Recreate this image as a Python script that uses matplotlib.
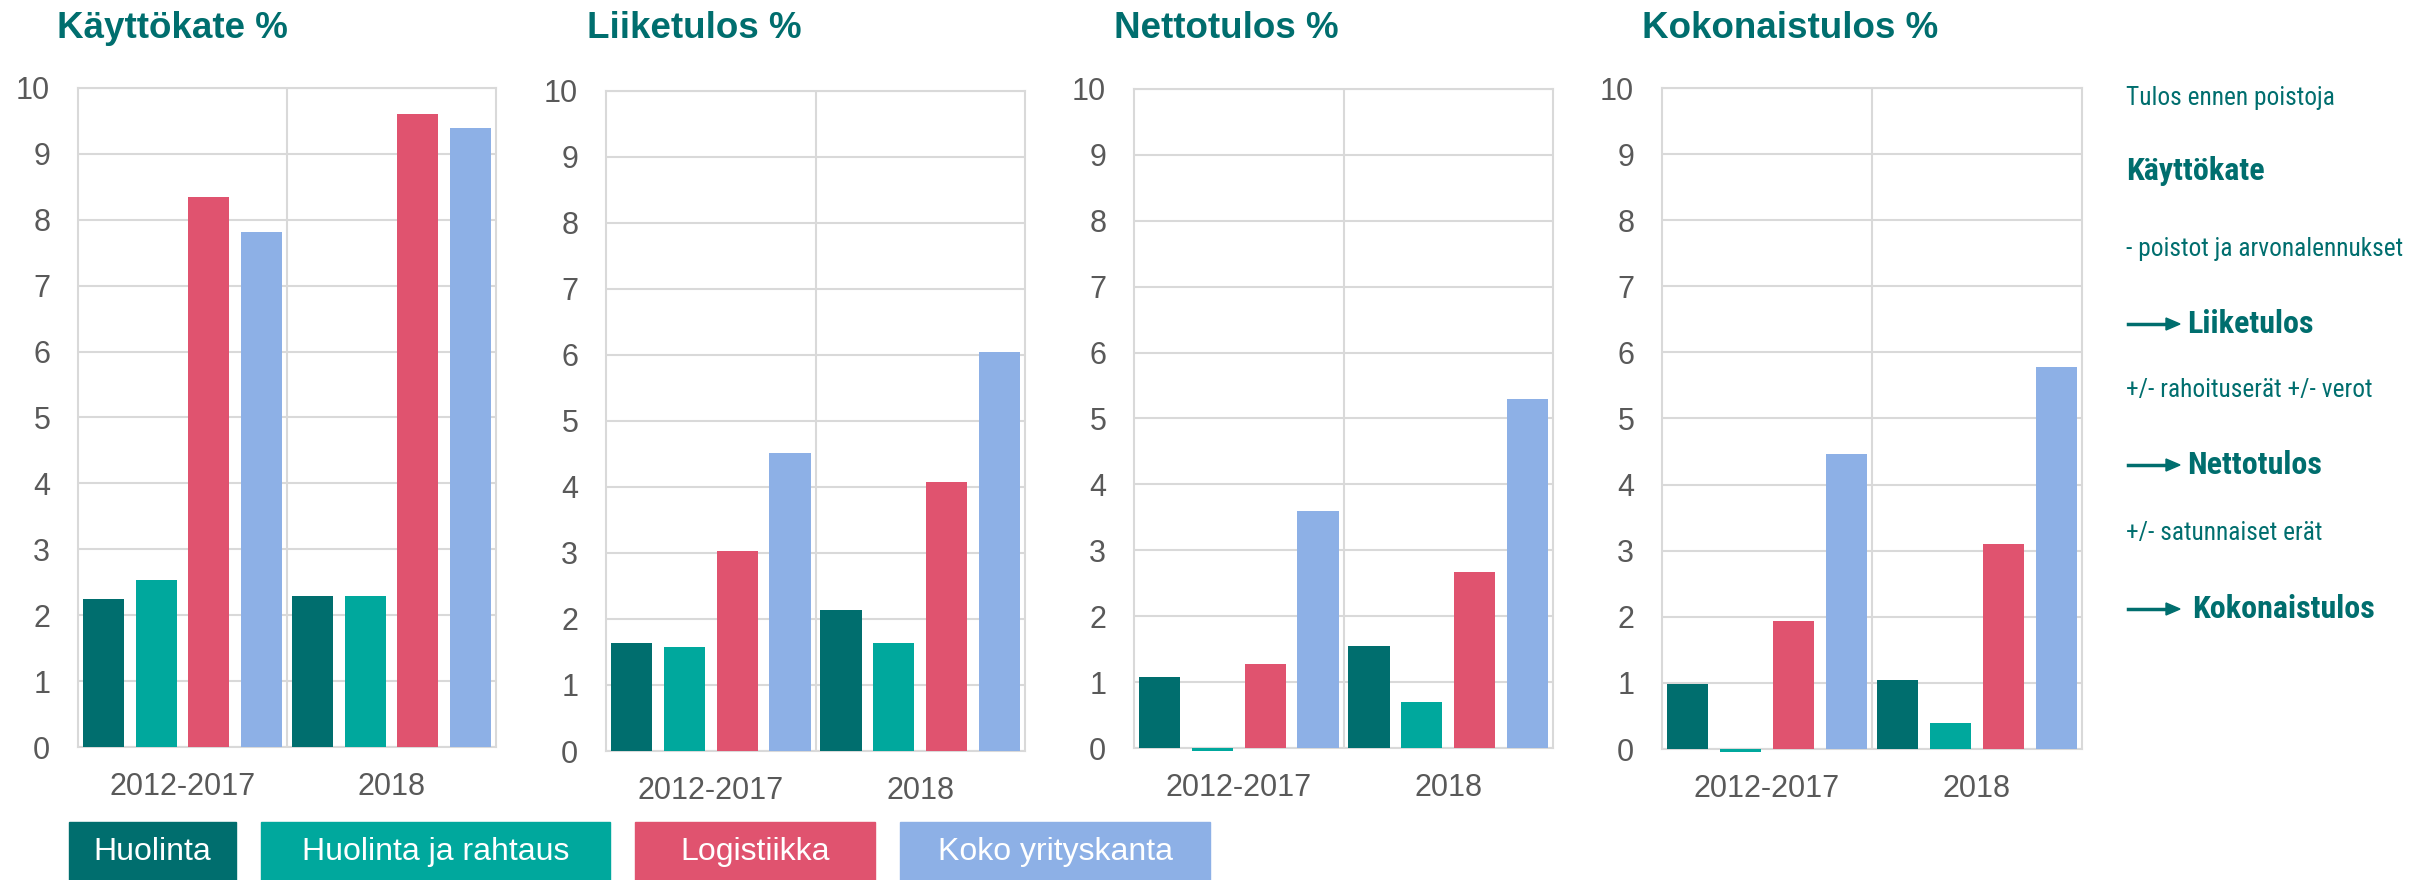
import matplotlib
matplotlib.use('Agg')
import matplotlib.pyplot as plt
from matplotlib.patches import Rectangle, Polygon
from matplotlib import font_manager
import numpy as np

# ---------------- data ----------------
categories = ['2012-2017', '2018']
series = ['Huolinta', 'Huolinta ja rahtaus', 'Logistiikka', 'Koko yrityskanta']
titles = ['Käyttökate %', 'Liiketulos %', 'Nettotulos %', 'Kokonaistulos %']

# rows = series, columns = categories
kayttokate = [[2.25, 2.29], [2.54, 2.29], [8.34, 9.60], [7.82, 9.40]]
liiketulos = [[1.63, 2.13], [1.57, 1.63], [3.03, 4.08], [4.52, 6.04]]
nettotulos = [[1.08, 1.55], [-0.04, 0.70], [1.28, 2.67], [3.59, 5.29]]
kokonaistulos = [[0.99, 1.04], [-0.04, 0.40], [1.93, 3.10], [4.46, 5.78]]
yticks = list(range(0, 11))

side_texts = ['Tulos ennen poistoja', 'Käyttökate', '- poistot ja arvonalennukset',
              'Liiketulos', '+/- rahoituserät +/- verot', 'Nettotulos',
              '+/- satunnaiset erät', 'Kokonaistulos']
side_bold = [False, True, False, True, False, True, False, True]
side_arrow = [False, False, False, True, False, True, False, True]

# ---------------- style ----------------
colors = ['#006e6e', '#00a89d', '#e0536f', '#8db0e6']
teal = '#006e6e'
grid_c = '#d9d9d9'
tick_c = '#595959'

W, H = 2430, 880
fig = plt.figure(figsize=(W / 100, H / 100), dpi=100)
plt.rcParams['font.family'] = ['Liberation Sans', 'DejaVu Sans']

available = {f.name for f in font_manager.fontManager.ttflist}
if 'Liberation Sans Narrow' in available:
    side_family, reg_size, bold_size = ['Liberation Sans Narrow', 'DejaVu Sans'], 18.5, 23
elif 'Roboto Condensed' in available:
    side_family, reg_size, bold_size = ['Roboto Condensed', 'DejaVu Sans'], 18.3, 23
else:
    side_family, reg_size, bold_size = ['Liberation Sans', 'DejaVu Sans'], 17.3, 20

panel_data = [kayttokate, liiketulos, nettotulos, kokonaistulos]
# axes boxes in pixels: left, right, top, bottom
boxes = [(78, 496, 88, 747), (606, 1025, 91, 751), (1134, 1553, 89, 748), (1662, 2082, 88, 749)]
title_x = [57, 587, 1114, 1642]

x = np.arange(len(categories))
step = 0.252
width = 0.197
offsets = (np.arange(len(series)) - (len(series) - 1) / 2) * step

for data, title, (l, r, t, b), tx in zip(panel_data, titles, boxes, title_x):
    ax = fig.add_axes([l / W, 1 - b / H, (r - l) / W, (b - t) / H])
    for i, (name, vals) in enumerate(zip(series, data)):
        ax.bar(x + offsets[i], vals, width=width, color=colors[i], label=name,
               zorder=3, clip_on=False)
    ax.set_xlim(-0.5, len(categories) - 0.5)
    ax.set_ylim(0, 10)
    ax.set_yticks(yticks)
    ax.set_xticks(x)
    ax.set_xticklabels(categories)
    ax.set_axisbelow(True)
    ax.yaxis.grid(True, color=grid_c, linewidth=1.5, zorder=0)
    for xv in np.arange(0.5, len(categories) - 0.5, 1.0):
        ax.axvline(xv, color=grid_c, linewidth=1.5, zorder=0)
    for s in ax.spines.values():
        s.set_color(grid_c)
        s.set_linewidth(1.5)
        s.set_zorder(1)
    ax.tick_params(axis='y', length=0, pad=20, labelsize=22, labelcolor=tick_c)
    ax.tick_params(axis='x', length=0, pad=18, labelsize=22, labelcolor=tick_c)
    fig.text(tx / W, 1 - 38 / H, title, fontsize=26.5, fontweight='bold', color=teal,
             ha='left', va='baseline')

# ---------------- legend boxes ----------------
leg_boxes = [(69, 236), (261, 610), (635, 875), (900, 1210)]
leg_top = 822
for (x0, x1), name, c in zip(leg_boxes, series, colors):
    fig.add_artist(Rectangle((x0 / W, 0), (x1 - x0) / W, 1 - leg_top / H,
                             transform=fig.transFigure, color=c, zorder=1))
    fig.text((x0 + x1) / 2 / W, 1 - 852 / H, name, fontsize=23, color='white',
             ha='center', va='center', zorder=2)

# ---------------- side annotation ----------------
side_y = [98, 171, 249, 324, 390, 465, 533, 609]
for txt, yb, bold, arr in zip(side_texts, side_y, side_bold, side_arrow):
    tx = 2126
    if arr:
        fig.add_artist(plt.Line2D([2128 / W, 2168 / W], [1 - yb / H, 1 - yb / H],
                                  transform=fig.transFigure, color=teal, linewidth=2.5))
        fig.add_artist(Polygon(
            [[2166 / W, 1 - (yb - 6) / H], [2180 / W, 1 - yb / H], [2166 / W, 1 - (yb + 6) / H]],
            closed=True, transform=fig.transFigure, color=teal))
        tx = 2187 if txt != 'Kokonaistulos' else 2192
    fig.text(tx / W, 1 - yb / H, txt, fontsize=bold_size if bold else reg_size,
             fontweight='bold' if bold else 'normal', color=teal,
             family=side_family, ha='left', va='center')

fig.savefig('out.png', dpi=100)
